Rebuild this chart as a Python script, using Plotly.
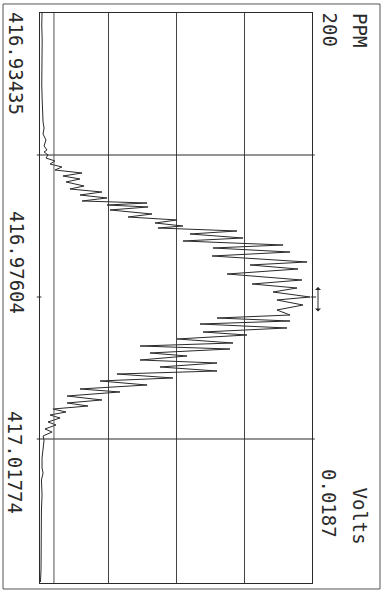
import plotly.graph_objects as go

# Frequency (as printed on the chart) and detector signal (Volts)
freq = [
    416.89265, 416.89617, 416.90058, 416.90498, 416.90939, 416.91379, 416.91819,
    416.92172, 416.92465, 416.92642, 416.92818, 416.92994, 416.93170, 416.93288,
    416.93346, 416.93434, 416.93523, 416.93611, 416.93699, 416.93787, 416.93875,
    416.93963, 416.94051, 416.94139, 416.94227, 416.94345, 416.94433, 416.94521,
    416.94609, 416.94697, 416.94785, 416.94844, 416.94903, 416.94961, 416.95049,
    416.95167, 416.95255, 416.95343, 416.95431, 416.95519, 416.95578, 416.95666,
    416.95754, 416.95872, 416.95960, 416.96077, 416.96165, 416.96283, 416.96400,
    416.96576, 416.96664, 416.96782, 416.96929, 416.97105, 416.97222, 416.97340,
    416.97457, 416.97604, 416.97692, 416.97839, 416.97986, 416.98133, 416.98221,
    416.98309, 416.98397, 416.98514, 416.98632, 416.98720, 416.98837, 416.98955,
    416.99043, 416.99131, 416.99248, 416.99336, 416.99454, 416.99542, 416.99659,
    416.99777, 416.99865, 416.99982, 417.00070, 417.00188, 417.00305, 417.00393,
    417.00511, 417.00628, 417.00716, 417.00805, 417.00893, 417.00981, 417.01069,
    417.01157, 417.01274, 417.01362, 417.01480, 417.01568, 417.01685, 417.01803,
    417.02038, 417.02331, 417.02625, 417.02772, 417.02977, 417.03418, 417.03858,
    417.04299, 417.04739, 417.05180, 417.05620, 417.05972,
]
volts = [
    0.00014, 0.00012, 0.00015, 0.00013, 0.00014, 0.00012, 0.00015,
    0.00017, 0.00021, 0.00028, 0.00021, 0.00041, 0.00028, 0.00048,
    0.00028, 0.00055, 0.00041, 0.00103, 0.00069, 0.00151, 0.00103,
    0.00289, 0.00158, 0.00275, 0.00179, 0.00303, 0.00206, 0.00426,
    0.00275, 0.00461, 0.00289, 0.00736, 0.00461, 0.00743, 0.00481,
    0.00770, 0.00605, 0.00942, 0.00791, 0.00983, 0.00811, 0.01354,
    0.01031, 0.01396, 0.00983, 0.01671, 0.01189, 0.01719, 0.01183,
    0.01836, 0.01444, 0.01774, 0.01286, 0.01801, 0.01458, 0.01767,
    0.01602, 0.01856, 0.01629, 0.01808, 0.01629, 0.01719, 0.01217,
    0.01719, 0.01100, 0.01698, 0.01121, 0.01423, 0.00942, 0.01327,
    0.00688, 0.01306, 0.00756, 0.01011, 0.00688, 0.01217, 0.00825,
    0.01217, 0.00529, 0.00914, 0.00413, 0.00736, 0.00275, 0.00550,
    0.00186, 0.00426, 0.00186, 0.00330, 0.00089, 0.00179, 0.00069,
    0.00138, 0.00055, 0.00110, 0.00034, 0.00083, 0.00021, 0.00028,
    0.00021, 0.00014, 0.00014, 0.00021, 0.00010, 0.00014, 0.00010,
    0.00010, 0.00007, 0.00007, 0.00007, 0.00003,
]

freq_ticks = [416.93435, 416.97604, 417.01774]
freq_labels = ["416.93435", "416.97604", "417.01774"]
volts_full_scale = 0.0187
volts_label = "0.0187"
ppm_label = "200"
freq_range = [417.06002, 416.89265]
ref_line_volts = 0.00096

INK = "#2a2a2a"
FONT = dict(family="DejaVu Sans Mono", size=19, color=INK)

fig = go.Figure()
fig.add_trace(go.Scatter(
    x=volts, y=freq, mode="lines",
    line=dict(color=INK, width=1),
    hoverinfo="skip", showlegend=False,
))

shapes = []
for f in (freq_ticks[0], freq_ticks[2]):
    shapes.append(dict(type="line", xref="paper", yref="y", x0=-0.012, x1=1.01,
                       y0=f, y1=f, line=dict(color=INK, width=1.2)))
shapes.append(dict(type="line", xref="paper", yref="y", x0=-0.012, x1=0.005,
                   y0=freq_ticks[1], y1=freq_ticks[1], line=dict(color=INK, width=1)))
shapes.append(dict(type="line", xref="paper", yref="y", x0=0.995, x1=1.015,
                   y0=freq_ticks[1], y1=freq_ticks[1], line=dict(color=INK, width=1)))
shapes.append(dict(type="line", xref="x", yref="paper", x0=ref_line_volts, x1=ref_line_volts,
                   y0=0, y1=1, line=dict(color="#555", width=1)))
shapes.append(dict(type="rect", xref="paper", yref="paper", x0=-0.136, x1=1.25,
                   y0=-0.0105, y1=1.0158, line=dict(color="#555", width=1)))

ann = []
for lab, (px, py) in zip(freq_labels, [(16, 63), (17, 262), (15, 462)]):
    ann.append(dict(text=lab, xref="paper", yref="paper",
                    x=(px - 40) / 272, y=(583 - py) / 570, showarrow=False,
                    textangle=90, xanchor="center", yanchor="middle", font=FONT))
for lab, (px, py) in zip(["PPM", ppm_label, "Volts", volts_label],
                         [(360, 30), (329.5, 29), (359.5, 516), (329, 503)]):
    ann.append(dict(text=lab, xref="paper", yref="paper",
                    x=(px - 40) / 272, y=(583 - py) / 570, showarrow=False,
                    textangle=90, xanchor="center", yanchor="middle", font=FONT))
ann.append(dict(text="", xref="paper", yref="y", x=(318 - 40) / 272, y=416.97310,
                ax=0, ay=26, showarrow=True, arrowside="end+start",
                arrowhead=1, startarrowhead=1, arrowsize=1, startarrowsize=1,
                arrowwidth=1, arrowcolor=INK))

fig.update_layout(
    width=385, height=591,
    margin=dict(l=40, r=73, t=13, b=8, autoexpand=False),
    paper_bgcolor="white", plot_bgcolor="white",
    shapes=shapes, annotations=ann,
    xaxis=dict(range=[0, volts_full_scale], tick0=0, dtick=volts_full_scale / 4,
               showgrid=True, gridcolor="#444", gridwidth=1, zeroline=False,
               showticklabels=False, ticks="", showline=True, mirror=True,
               linecolor=INK, linewidth=1),
    yaxis=dict(range=freq_range, showgrid=False, zeroline=False,
               showticklabels=False, ticks="", showline=True, mirror=True,
               linecolor=INK, linewidth=1),
)

fig.write_html(
    "out.html",
    config={"displayModeBar": False},
    post_script="document.body.style.margin='0';document.body.style.overflow='hidden';",
)
